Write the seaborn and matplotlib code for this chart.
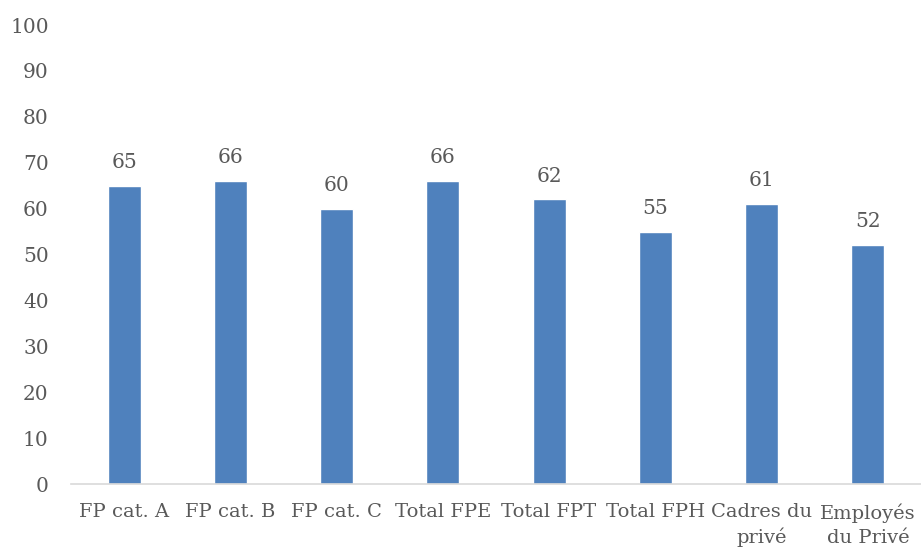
import pandas as pd
import matplotlib
matplotlib.use("Agg")
import matplotlib.pyplot as plt
import seaborn as sns

# data
categories = ["FP cat. A", "FP cat. B", "FP cat. C", "Total FPE", "Total FPT",
              "Total FPH", "Cadres du\nprivé", "Employés\ndu Privé"]
values = [65, 66, 60, 66, 62, 55, 61, 52]
y_ticks = list(range(0, 101, 10))

df = pd.DataFrame({"cat": categories, "val": values})

sns.set_theme(style="white")
plt.rcParams["font.family"] = ["DejaVu Serif"]
text_color = "#595959"

fig = plt.figure(figsize=(9.21, 5.5), dpi=100)
ax = fig.add_axes([0.077, 0.12, 0.923, 0.8345])

sns.barplot(data=df, x="cat", y="val", color="#4F81BD", saturation=1,
            width=0.31, ax=ax)

for i, v in enumerate(values):
    ax.annotate(str(v), (i, v), xytext=(0, 10), textcoords="offset points",
                ha="center", va="bottom", fontsize=14.5, color=text_color)

ax.set_ylim(0, 100)
ax.set_xlim(-0.5, len(categories) - 0.5)
ax.set_yticks(y_ticks)
ax.set_xlabel("")
ax.set_ylabel("")
ax.tick_params(axis="y", length=0, labelsize=14.5, labelcolor=text_color, pad=16)
ax.tick_params(axis="x", length=0, labelsize=14, labelcolor=text_color, pad=14)
for lbl in ax.get_xticklabels():
    lbl.set_linespacing(1.4)

for side in ["top", "right", "left"]:
    ax.spines[side].set_visible(False)
ax.spines["bottom"].set_color("#d9d9d9")
ax.spines["bottom"].set_linewidth(1.2)

fig.savefig("out.png", dpi=100)
